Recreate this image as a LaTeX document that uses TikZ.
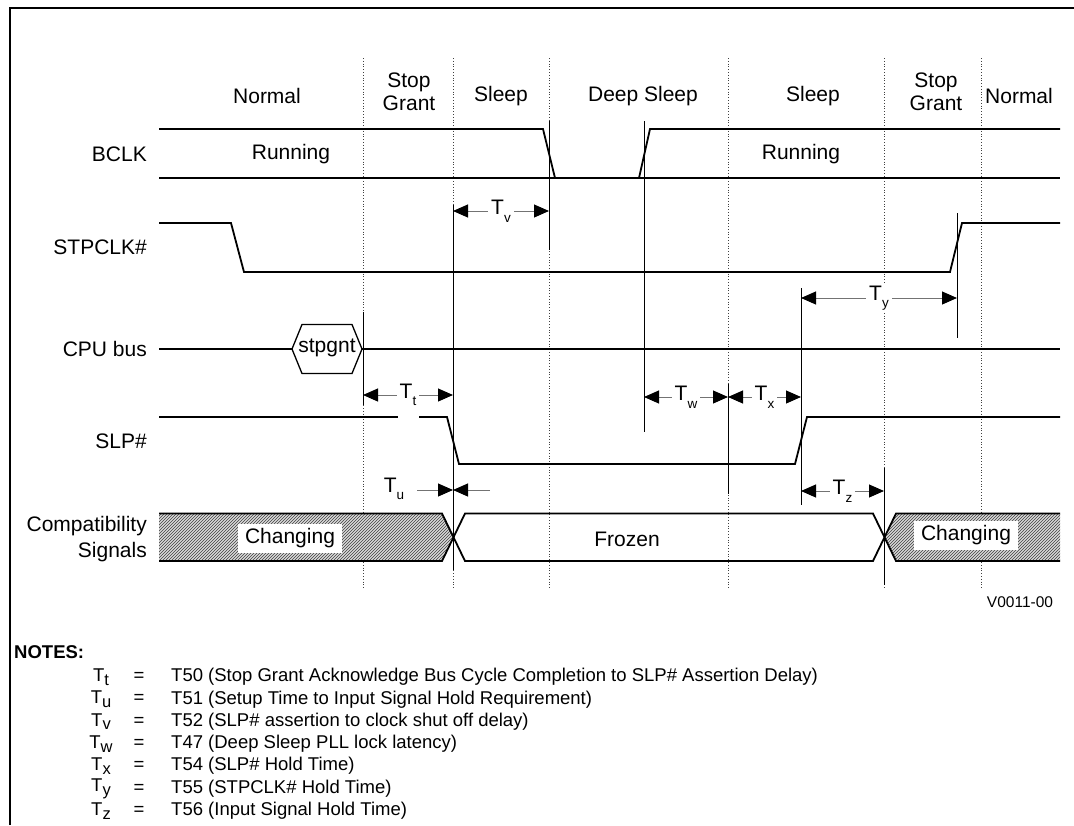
\documentclass[tikz,border=0pt]{standalone}
\usepackage{fontspec}
\setmainfont{Liberation Sans}
\usetikzlibrary{arrows.meta,patterns}
\newcommand\mainfs{\fontsize{21}{24}\selectfont}
\newcommand\notefs{\fontsize{18.5}{22}\selectfont}
\newcommand\Ts[1]{T\raisebox{-0.36em}{\fontsize{13.5}{13.5}\selectfont #1}}
\newcommand\Tn[1]{T\raisebox{-0.2em}{\fontsize{16.5}{16.5}\selectfont #1}}
\begin{document}
\begin{tikzpicture}[x=1pt,y=-1pt,
  sig/.style={line width=1.8pt},
  vln/.style={line width=0.9pt},
  bnd/.style={line width=0.9pt, dash pattern=on 1pt off 1.8pt, black!75},
  dim/.style={line width=1pt, black!55, {Triangle[length=15pt,width=13pt,black]}-{Triangle[length=15pt,width=13pt,black]}},
  dimr/.style={line width=1pt, black!55, -{Triangle[length=15pt,width=13pt,black]}},
  dlab/.style={fill=white, inner sep=3pt, font=\mainfs, text=black},
  lbl/.style={font=\mainfs, inner sep=0pt},
  hdr/.style={font=\mainfs, inner sep=0pt, align=center},
  note/.style={font=\notefs, inner sep=0pt},
  hatchfill/.style={fill=gray!30},
  hatchlines/.style={pattern=north east lines, pattern color=black!75},
  boxlab/.style={fill=white, font=\mainfs, inner xsep=7pt, minimum height=29pt},
]
\useasboundingbox (0,0) rectangle (1074,825);
% frame
\draw[line width=2.6pt] (10,825) -- (10,8) -- (1074,8);

% phase boundaries
\foreach \x/\n in {363/b1,453/b2,549/b3,728/b4,884/b5,981/b6}{
  \coordinate (\n t) at (\x,58);
  \coordinate (\n b) at (\x,588);
  \draw[bnd] (\n t) -- (\n b);
}

% headers
\node[hdr] (hN1) at (267,96) {Normal};
\node[hdr] (hSG1) at (409,92) {Stop\\[-1pt]Grant};
\node[hdr] (hS1) at (501,96) {Sleep};
\node[hdr] (hDS) at (643,96) {Deep Sleep};
\node[hdr] (hS2) at (813,96) {Sleep};
\node[hdr] (hSG2) at (936,92) {Stop\\[-1pt]Grant};
\node[hdr] (hN2) at (1019,96) {Normal};

% signal labels
\node[lbl, anchor=east] (lBCLK) at (147,154) {BCLK};
\node[lbl, anchor=east] (lSTP) at (147,247) {STPCLK\#};
\node[lbl, anchor=east] (lCPU) at (147,349) {CPU bus};
\node[lbl, anchor=east] (lSLP) at (147,441) {SLP\#};
\node[lbl, anchor=east, align=right] (lCOMP) at (147,539) {Compatibility\\[2pt]Signals};

% BCLK
\coordinate (bk0) at (159,129);
\coordinate (bk1) at (543,129);
\coordinate (bk2) at (555,178);
\coordinate (bk3) at (159,178);
\coordinate (bk4) at (1060,178);
\coordinate (bk5) at (639,178);
\coordinate (bk6) at (650,129);
\coordinate (bk7) at (1060,129);
\draw[sig] (bk0) -- (bk1) -- (bk2);
\draw[sig] (bk3) -- (bk4);
\draw[sig] (bk5) -- (bk6) -- (bk7);
\node[lbl] (run1) at (291,154) {Running};
\node[lbl] (run2) at (801,154) {Running};

% STPCLK#
\coordinate (st0) at (159,223);
\coordinate (st1) at (231,223);
\coordinate (st2) at (244,272);
\coordinate (st3) at (950,272);
\coordinate (st4) at (962,223);
\coordinate (st5) at (1060,223);
\draw[sig] (st0) -- (st1) -- (st2) -- (st3) -- (st4) -- (st5);

% CPU bus
\coordinate (cb0) at (159,349);
\coordinate (cb1) at (1060,349);
\coordinate (hxL) at (292,349);
\coordinate (hxR) at (362,349);
\draw[line width=1.3pt, line join=miter] (hxL) -- (302,324.5) -- (352,324.5) -- (hxR) -- (352,373.5) -- (302,373.5) -- cycle;
\node[font=\mainfs, inner sep=0pt] (hextxt) at (327,348) {stpgnt};
\draw[sig] (cb0) -- (hxL);
\draw[sig] (hxR) -- (cb1);

% SLP#
\coordinate (sl0) at (159,417);
\coordinate (sl1) at (447,417);
\coordinate (sl2) at (459,464);
\coordinate (sl3) at (795,464);
\coordinate (sl4) at (807,417);
\coordinate (sl5) at (1060,417);
\draw[sig] (sl0) -- (sl1) -- (sl2) -- (sl3) -- (sl4) -- (sl5);

% compatibility signals
\def\cT{513.5}\def\cB{561}\def\cM{537.25}
\path[hatchfill] (159,\cT) -- (442,\cT) -- (453.5,\cM) -- (442,\cB) -- (159,\cB) -- cycle;
\path[hatchlines] (159,\cT) -- (442,\cT) -- (453.5,\cM) -- (442,\cB) -- (159,\cB) -- cycle;
\path[hatchfill] (884.5,\cM) -- (896,\cT) -- (1060,\cT) -- (1060,\cB) -- (896,\cB) -- cycle;
\path[hatchlines] (884.5,\cM) -- (896,\cT) -- (1060,\cT) -- (1060,\cB) -- (896,\cB) -- cycle;
\draw[sig] (159,\cT) -- (442,\cT) -- (465,\cB) -- (873,\cB) -- (896,\cT) -- (1060,\cT);
\draw[sig] (159,\cB) -- (442,\cB) -- (465,\cT) -- (873,\cT) -- (896,\cB) -- (1060,\cB);
\node[boxlab] (ch1) at (290,538) {Changing};
\node[lbl] (frz) at (627,539) {Frozen};
\node[boxlab] (ch2) at (966,535) {Changing};

% solid timing markers
\coordinate (m1a) at (363,312); \coordinate (m1b) at (363,405);
\coordinate (m2a) at (453,205); \coordinate (m2b) at (453,570);
\coordinate (m3a) at (549,121); \coordinate (m3b) at (549,250);
\coordinate (m4a) at (644,121); \coordinate (m4b) at (644,432);
\coordinate (m5a) at (728,384); \coordinate (m5b) at (728,494);
\coordinate (m6a) at (801,288); \coordinate (m6b) at (801,505);
\coordinate (m7a) at (957,213); \coordinate (m7b) at (957,338);
\coordinate (m8a) at (884,468); \coordinate (m8b) at (884,585);
\foreach \a/\b in {m1a/m1b,m2a/m2b,m3a/m3b,m4a/m4b,m5a/m5b,m6a/m6b,m7a/m7b,m8a/m8b}
  \draw[vln] (\a) -- (\b);

% dimension arrows
\coordinate (tv1) at (453,211); \coordinate (tv2) at (549,211);
\draw[dim] (tv1) -- node[dlab] (Tv) {\Ts{v}} (tv2);
\coordinate (ty1) at (801,298); \coordinate (ty2) at (957,298);
\draw[dim] (ty1) -- node[dlab] (Ty) {\Ts{y}} (ty2);
\fill[white] (398,412) rectangle (419,421);
\coordinate (tt1) at (363,395); \coordinate (tt2) at (453,395);
\draw[dim] (tt1) -- node[dlab] (Tt) {\Ts{t}} (tt2);
\coordinate (tw1) at (644,397); \coordinate (tw2) at (728,397);
\draw[dim] (tw1) -- node[dlab] (Tw) {\Ts{w}} (tw2);
\coordinate (tx1) at (728,397); \coordinate (tx2) at (801,397);
\draw[dim] (tx1) -- node[dlab] (Tx) {\Ts{x}} (tx2);
\coordinate (tz1) at (801,491); \coordinate (tz2) at (884,491);
\draw[dim] (tz1) -- node[dlab] (Tz) {\Ts{z}} (tz2);
\coordinate (tu0) at (417,490); \coordinate (tu1) at (453,490); \coordinate (tu2) at (490,490);
\draw[dimr] (tu0) -- (tu1);
\draw[dimr] (tu2) -- (tu1);
\node[font=\mainfs, inner sep=0pt] (Tu) at (394,489) {\Ts{u}};

% figure id
\node[font=\fontsize{15.5}{15.5}\selectfont, inner sep=0pt] (fid) at (1020,602) {V0011-00};

% notes
\node[note, anchor=west, font=\notefs\bfseries] (notes) at (14,652) {NOTES:};
\foreach \s/\t [count=\i from 0] in {
  t/{T50 (Stop Grant Acknowledge Bus Cycle Completion to SLP\# Assertion Delay)},
  u/{T51 (Setup Time to Input Signal Hold Requirement)},
  v/{T52 (SLP\# assertion to clock shut off delay)},
  w/{T47 (Deep Sleep PLL lock latency)},
  x/{T54 (SLP\# Hold Time)},
  y/{T55 (STPCLK\# Hold Time)},
  z/{T56 (Input Signal Hold Time)}}{
  \node[note] (ns\i) at (101,677+22.3*\i) {\Tn{\s}};
  \node[note] (ne\i) at (139,677+22.3*\i) {=};
  \node[note, anchor=west] (nt\i) at (171,677+22.3*\i) {\t};
}
\end{tikzpicture}
\end{document}
